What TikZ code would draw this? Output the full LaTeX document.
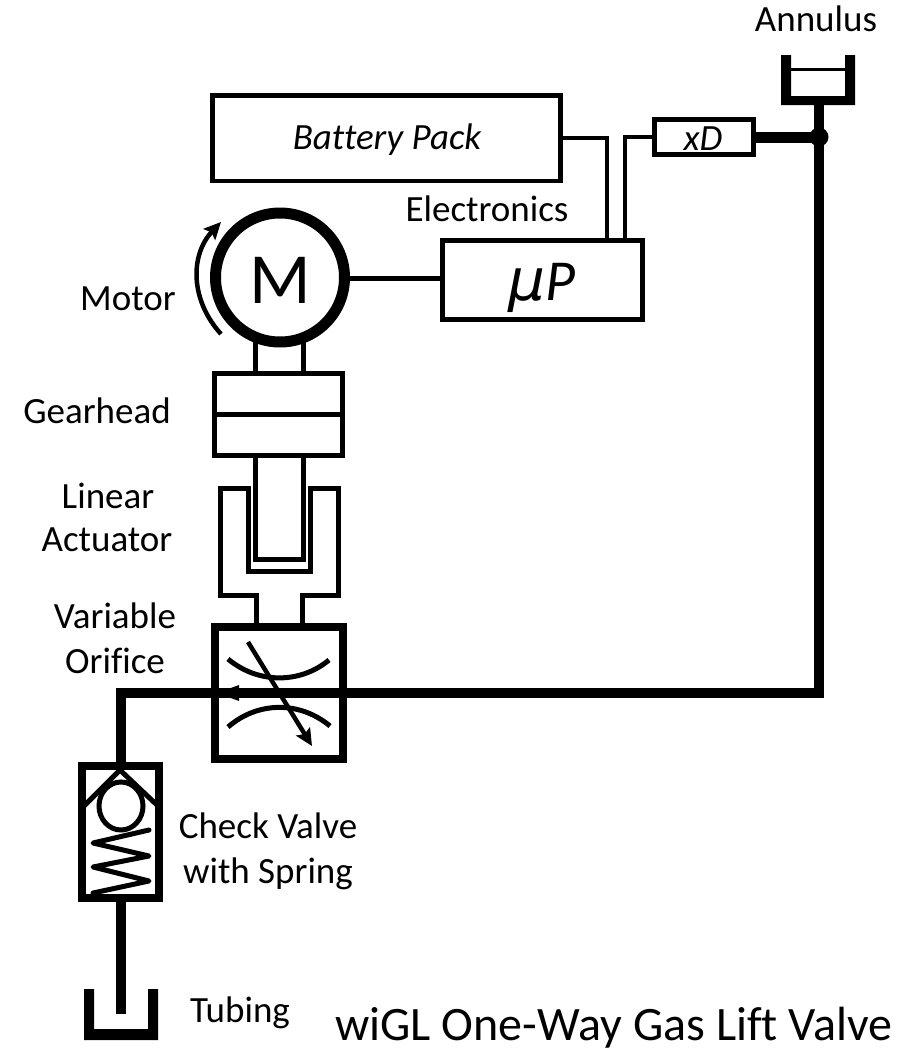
\documentclass[tikz,border=0pt]{standalone}
\usepackage{fontspec}
\setmainfont[Ligatures={NoCommon}]{Carlito}
\newfontfamily\muletter{DejaVu Sans}
\usetikzlibrary{arrows.meta}
\tikzset{
  every node/.style={outer sep=0pt,inner sep=0pt},
  lbl/.style={font=\fontsize{37}{44}\selectfont,anchor=base,text=black},
  ilbl/.style={font=\fontsize{37}{44}\selectfont\itshape,anchor=base,text=black},
  box/.style={draw=black,fill=white,line width=5pt,anchor=north west},
  pipe/.style={line width=10pt,draw=black},
  wire/.style={line width=4.5pt,draw=black},
  head/.style={-{Stealth[length=17pt,width=16pt,inset=3pt]}}
}
\begin{document}
\begin{tikzpicture}[x=1pt,y=-1pt]
\useasboundingbox (0,0) rectangle (920,1052);
% main gas line
\coordinate (ajn) at (819,137);
\coordinate (atop) at (819,100);
\coordinate (acorner) at (819,693);
\coordinate (lcorner) at (121,693);
\coordinate (cvtop) at (121,766);
\draw[pipe] (atop) -- (acorner) -- (lcorner) -- (cvtop);
% annulus
\fill (781,55) rectangle (791,105) (845,55) rectangle (855,105) (781,96) rectangle (855,105);
\draw[line width=3pt] (791,69) -- (845,69);
\node[circle,fill=black,minimum size=19pt] (dot) at (ajn) {};
\node[lbl] (annulus) at (816,31) {Annulus};
% battery
\node[box,minimum width=348pt,minimum height=85.5pt,line width=4.5pt] (batt) at (212.5,95.5) {};
\node[ilbl] (battl) at (387,149) {Battery Pack};
% xD
\node[box,minimum width=99pt,minimum height=35pt] (xd) at (654.5,119.5) {};
\node[ilbl] (xdl) at (703,150) {xD};
\draw[line width=11pt] (xd.east |- ajn) -- (ajn);
% uP
\node[box,minimum width=200pt,minimum height=79pt] (up) at (442.5,240.5) {};
\node[font=\fontsize{58}{60}\selectfont\itshape,anchor=base] (upl) at (542,300) {{\muletter\itshape μ}P};
\node[lbl] (elec) at (487,221) {Electronics};
\coordinate (b1) at (607,138);
\coordinate (b2) at (625,137);
\draw[wire] (batt.east |- b1) -| (up.north -| b1);
\draw[wire] (xd.west |- b2) -| (up.north -| b2);
% motor
\node[circle,draw=black,line width=11pt,minimum size=129pt,fill=white] (motor) at (280,277.5) {};
\node[font=\fontsize{72}{80}\selectfont,anchor=base] (ml) at (280,303) {M};
\coordinate (mw) at (0,278.7);
\draw[wire] (motor.east |- mw) -- (up.west |- mw);
\coordinate (ma) at (221,334);
\coordinate (mb) at (221,222);
\draw[line width=4.5pt,head] (ma) .. controls (190,300) and (190,255) .. (mb);
\node[lbl] (motl) at (128,310) {Motor};
% actuator
\draw[line width=5pt,fill=white,line join=miter] (220,488) -- (248,488) -- (248,571) -- (310,571) -- (310,488) -- (338,488) -- (338,595) -- (302,595) -- (302,627) -- (256,627) -- (256,595) -- (220,595) -- cycle;
\draw[line width=5pt,fill=white] (255,455) -- (255,559) -- (303,559) -- (303,455);
\node[lbl] (actl1) at (108,508) {Linear};
\node[lbl] (actl2) at (107,551) {Actuator};
% gearhead
\node[box,minimum width=128pt,minimum height=82pt] (gear) at (214.5,373) {};
\draw[line width=5pt] (gear.west |- 0,414) -- (gear.east |- 0,414);
\draw[line width=5pt] (255,340) -- (255,373) (303,340) -- (303,373);
\node[lbl] (gearl) at (97,423) {Gearhead};
% orifice
\node[lbl] (oril1) at (115,628) {Variable};
\node[lbl] (oril2) at (115,673) {Orifice};
\node[draw=black,line width=8pt,minimum width=128pt,minimum height=132pt,anchor=north west] (ori) at (215,627) {};
\draw[line width=5pt] (228,659) .. controls (258,684) and (300,684) .. (329,660);
\draw[line width=5pt] (228,727) .. controls (258,701) and (300,701) .. (330,726);
\coordinate (da) at (248,642);
\coordinate (db) at (312,746);
\draw[line width=4.5pt,head] (da) -- (db);
\fill (217,693) -- (239,685) -- (239,701) -- cycle;
% check valve
\node[draw=black,fill=white,line width=8pt,minimum width=77pt,minimum height=132pt,anchor=north west] (cv) at (82,766) {};
\draw[line width=5pt] (84,806) -- (120,770) -- (158,806);
\draw[line width=5pt,fill=none] (121,806) ellipse (22 and 24);
\draw[line width=5pt,line cap=round,line join=round] (149,830) -- (93,843) -- (149,856) -- (93,867) -- (149,881) -- (93,893);
\node[lbl] (cvl1) at (268,838) {Check Valve};
\node[lbl] (cvl2) at (268,883) {with Spring};
% tubing
\coordinate (tub) at (121,1014);
\draw[pipe] (tub |- cv.south) -- (tub);
\fill (84,989) rectangle (94,1040) (148,989) rectangle (158,1040) (84,1029) rectangle (158,1040);
\node[lbl] (tubl) at (240,1022) {Tubing};
\node[font=\fontsize{48}{52}\selectfont,anchor=base] (title) at (614,1040) {wiGL One-Way Gas Lift Valve};
\end{tikzpicture}
\end{document}
